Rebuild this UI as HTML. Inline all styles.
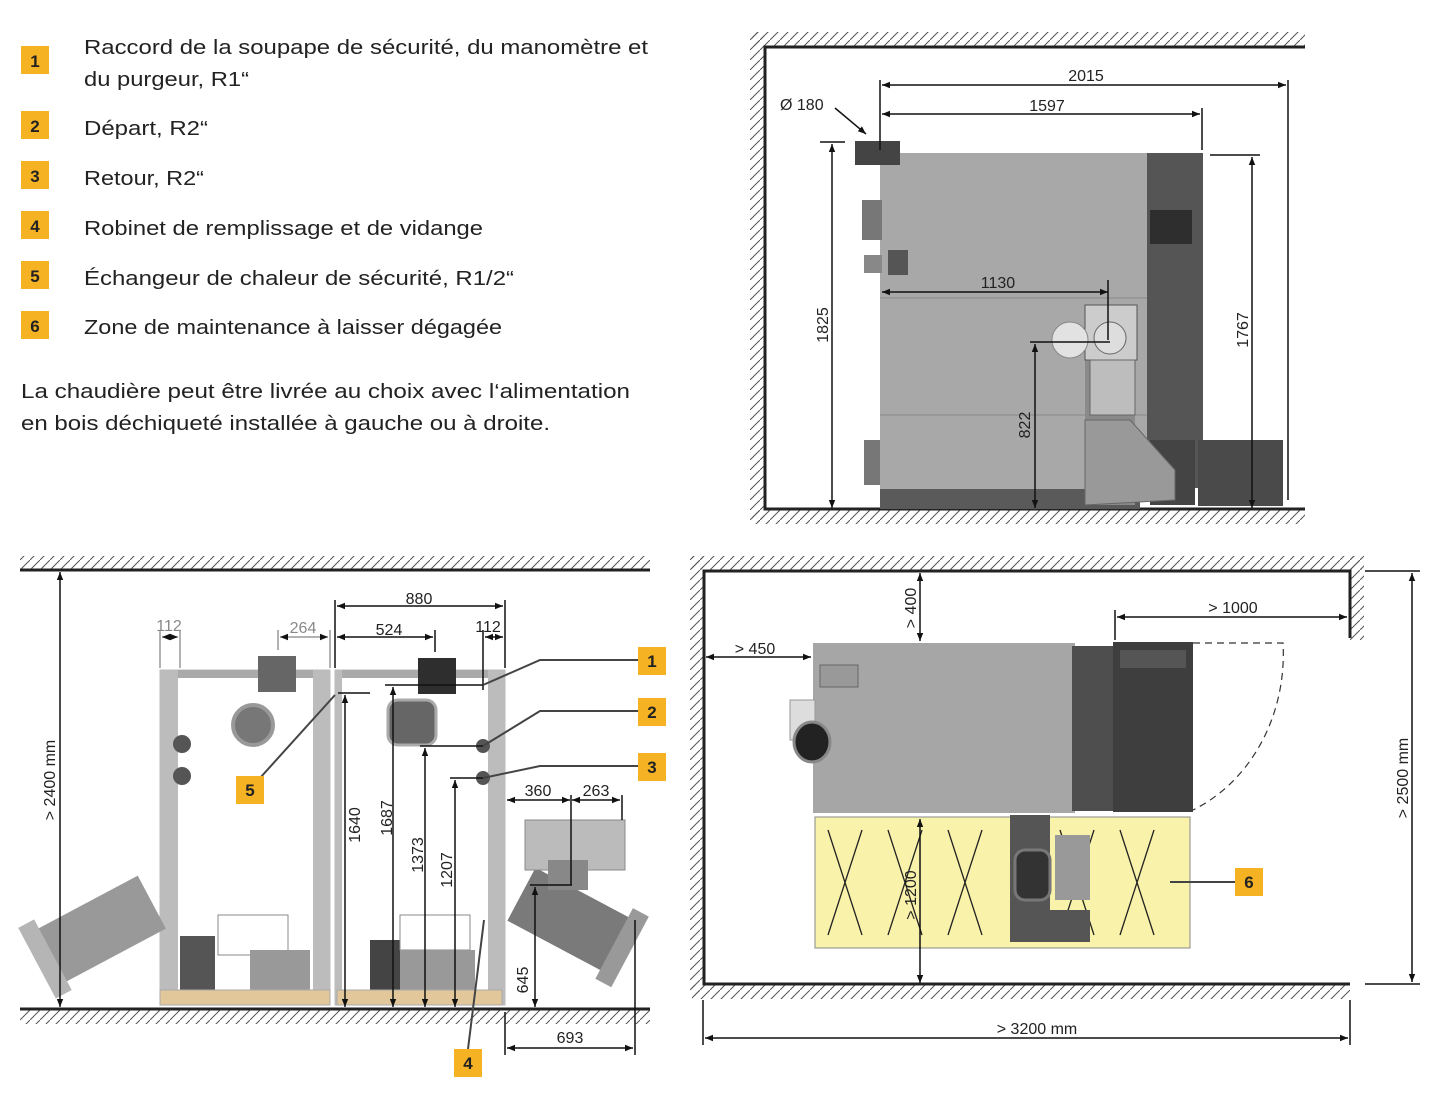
<!DOCTYPE html>
<html><head><meta charset="utf-8"><style>
html,body{margin:0;padding:0;background:#fff}
svg{display:block}
text{font-family:"Liberation Sans",sans-serif}
.lg{font-family:"Liberation Sans",sans-serif;font-size:20px;fill:#222}
.d{font-size:16px;fill:#222}
.dg{font-size:16px;fill:#888}
.n{font-size:17px;font-weight:bold;fill:#222}
</style></head><body>
<svg width="1435" height="1110" viewBox="0 0 1435 1110" xmlns="http://www.w3.org/2000/svg">
<defs>
<pattern id="h" width="10" height="10" patternUnits="userSpaceOnUse"><path d="M0 10 L10 0" stroke="#555" stroke-width="1"/></pattern>
<marker id="a" viewBox="0 0 10 10" refX="10" refY="5" markerWidth="10" markerHeight="8" orient="auto-start-reverse" markerUnits="userSpaceOnUse"><path d="M0 1 L10 5 L0 9 z" fill="#111"/></marker>
</defs>

<!-- Legend -->
<g>
<rect x="21" y="46" width="28" height="28" fill="#f5b324"/><text x="35" y="67" text-anchor="middle" class="n">1</text>
<rect x="21" y="111" width="28" height="28" fill="#f5b324"/><text x="35" y="132" text-anchor="middle" class="n">2</text>
<rect x="21" y="161" width="28" height="28" fill="#f5b324"/><text x="35" y="182" text-anchor="middle" class="n">3</text>
<rect x="21" y="211" width="28" height="28" fill="#f5b324"/><text x="35" y="232" text-anchor="middle" class="n">4</text>
<rect x="21" y="261" width="28" height="28" fill="#f5b324"/><text x="35" y="282" text-anchor="middle" class="n">5</text>
<rect x="21" y="311" width="28" height="28" fill="#f5b324"/><text x="35" y="332" text-anchor="middle" class="n">6</text>
<text x="84" y="54" class="lg" textLength="564" lengthAdjust="spacingAndGlyphs">Raccord de la soupape de sécurité, du manomètre et</text>
<text x="84" y="86" class="lg" textLength="165" lengthAdjust="spacingAndGlyphs">du purgeur, R1“</text>
<text x="84" y="135" class="lg" textLength="124" lengthAdjust="spacingAndGlyphs">Départ, R2“</text>
<text x="84" y="185" class="lg" textLength="120" lengthAdjust="spacingAndGlyphs">Retour, R2“</text>
<text x="84" y="235" class="lg" textLength="399" lengthAdjust="spacingAndGlyphs">Robinet de remplissage et de vidange</text>
<text x="84" y="285" class="lg" textLength="430" lengthAdjust="spacingAndGlyphs">Échangeur de chaleur de sécurité, R1/2“</text>
<text x="84" y="334" class="lg" textLength="418" lengthAdjust="spacingAndGlyphs">Zone de maintenance à laisser dégagée</text>
<text x="21" y="398" class="lg" textLength="609" lengthAdjust="spacingAndGlyphs">La chaudière peut être livrée au choix avec l‘alimentation</text>
<text x="21" y="430" class="lg" textLength="529" lengthAdjust="spacingAndGlyphs">en bois déchiqueté installée à gauche ou à droite.</text>
</g>

<!-- TOP RIGHT -->
<g>
<rect x="752" y="32" width="553" height="14" fill="url(#h)"/>
<rect x="750" y="32" width="14" height="490" fill="url(#h)"/>
<rect x="752" y="510" width="553" height="14" fill="url(#h)"/>
<rect x="764" y="46" width="541" height="464" fill="#fff"/>
<path d="M1305 47 H765 V509 H1305" fill="none" stroke="#222" stroke-width="3"/>
<rect x="880" y="153" width="267" height="336" fill="#a8a8a8"/>
<rect x="880" y="489" width="260" height="20" fill="#5a5a5a"/>
<line x1="880" y1="298" x2="1147" y2="298" stroke="#888"/>
<line x1="880" y1="415" x2="1147" y2="415" stroke="#888"/>
<rect x="1147" y="153" width="56" height="335" fill="#555"/>
<rect x="1150" y="210" width="42" height="34" fill="#2e2e2e"/>
<rect x="1150" y="440" width="45" height="65" fill="#444"/>
<rect x="855" y="141" width="45" height="24" fill="#444"/>
<rect x="862" y="200" width="20" height="40" fill="#777"/>
<rect x="864" y="255" width="18" height="18" fill="#888"/>
<rect x="888" y="250" width="20" height="25" fill="#555"/>
<rect x="864" y="440" width="16" height="45" fill="#777"/>
<rect x="1085" y="340" width="50" height="165" fill="#8a8a8a"/>
<path d="M1085 420 L1130 420 L1175 470 L1175 500 L1085 505 z" fill="#999" stroke="#666"/>
<rect x="1085" y="305" width="52" height="55" fill="#ccc" stroke="#555"/>
<circle cx="1110" cy="338" r="16" fill="#ddd" stroke="#666"/>
<circle cx="1070" cy="340" r="18" fill="#e2e2e2" stroke="#888"/>
<rect x="1090" y="360" width="45" height="55" fill="#bdbdbd" stroke="#666"/>
<rect x="1198" y="440" width="85" height="66" fill="#4a4a4a"/>
<g stroke="#111" stroke-width="1.5" fill="none">
<line x1="880" y1="80" x2="880" y2="150"/>
<line x1="1288" y1="80" x2="1288" y2="500"/>
<line x1="1202" y1="108" x2="1202" y2="150"/>
<line x1="882" y1="85" x2="1286" y2="85" marker-start="url(#a)" marker-end="url(#a)"/>
<line x1="882" y1="114" x2="1200" y2="114" marker-start="url(#a)" marker-end="url(#a)"/>
<line x1="882" y1="292" x2="1108" y2="292" marker-start="url(#a)" marker-end="url(#a)"/>
<line x1="1108" y1="280" x2="1108" y2="340"/>
<line x1="1030" y1="342" x2="1110" y2="342"/>
<line x1="820" y1="142" x2="845" y2="142"/>
<line x1="832" y1="144" x2="832" y2="508" marker-start="url(#a)" marker-end="url(#a)"/>
<line x1="1210" y1="155" x2="1260" y2="155"/>
<line x1="1252" y1="157" x2="1252" y2="508" marker-start="url(#a)" marker-end="url(#a)"/>
<line x1="1035" y1="344" x2="1035" y2="508" marker-start="url(#a)" marker-end="url(#a)"/>
<line x1="835" y1="108" x2="866" y2="134" marker-end="url(#a)"/>
</g>
<text x="1086" y="81" class="d" text-anchor="middle">2015</text>
<text x="1047" y="111" class="d" text-anchor="middle">1597</text>
<text x="998" y="288" class="d" text-anchor="middle">1130</text>
<text x="780" y="110" class="d">Ø 180</text>
<text transform="translate(828 325) rotate(-90)" class="d" text-anchor="middle">1825</text>
<text transform="translate(1248 330) rotate(-90)" class="d" text-anchor="middle">1767</text>
<text transform="translate(1030 425) rotate(-90)" class="d" text-anchor="middle">822</text>
</g>

<!-- BOTTOM LEFT -->
<g>
<rect x="20" y="556" width="630" height="14" fill="url(#h)"/>
<rect x="20" y="1010" width="630" height="14" fill="url(#h)"/>
<line x1="20" y1="570" x2="650" y2="570" stroke="#222" stroke-width="3"/>
<line x1="20" y1="1009" x2="650" y2="1009" stroke="#222" stroke-width="3"/>
<rect x="160" y="670" width="170" height="335" fill="#fff" stroke="#bbb"/>
<rect x="160" y="670" width="170" height="8" fill="#aaa"/>
<rect x="160" y="670" width="18" height="335" fill="#bcbcbc"/>
<rect x="313" y="670" width="17" height="335" fill="#bcbcbc"/>
<rect x="258" y="656" width="38" height="36" fill="#666"/>
<circle cx="253" cy="725" r="20" fill="#777" stroke="#999" stroke-width="4"/>
<rect x="180" y="936" width="35" height="65" fill="#555"/>
<rect x="218" y="915" width="70" height="40" fill="#fff" stroke="#888"/>
<rect x="250" y="950" width="60" height="50" fill="#999"/>
<circle cx="182" cy="744" r="9" fill="#555"/><circle cx="182" cy="776" r="9" fill="#555"/>
<rect x="335" y="670" width="170" height="335" fill="#fff" stroke="#bbb"/>
<rect x="335" y="670" width="170" height="8" fill="#aaa"/>
<rect x="335" y="670" width="7" height="335" fill="#bcbcbc"/>
<rect x="488" y="670" width="17" height="335" fill="#bcbcbc"/>
<rect x="418" y="658" width="38" height="36" fill="#2e2e2e"/>
<rect x="388" y="700" width="48" height="45" rx="10" fill="#666" stroke="#aaa" stroke-width="3"/>
<rect x="370" y="940" width="30" height="55" fill="#444"/>
<rect x="400" y="915" width="70" height="35" fill="#fff" stroke="#888"/>
<rect x="400" y="950" width="75" height="45" fill="#999"/>
<rect x="337" y="990" width="165" height="15" fill="#e2c79a" stroke="#aaa"/>
<rect x="160" y="990" width="170" height="15" fill="#e2c79a" stroke="#aaa"/>
<circle cx="483" cy="746" r="7" fill="#555"/><circle cx="483" cy="778" r="7" fill="#555"/>
<g transform="rotate(-28 90 935)"><rect x="40" y="905" width="120" height="60" fill="#999"/><rect x="30" y="895" width="18" height="80" fill="#b5b5b5"/></g>
<g transform="rotate(28 570 920)"><rect x="515" y="890" width="120" height="60" fill="#7a7a7a"/><rect x="620" y="880" width="18" height="80" fill="#999"/></g>
<rect x="525" y="820" width="100" height="50" fill="#bbb" stroke="#888"/>
<rect x="548" y="860" width="40" height="30" fill="#888"/>
<g stroke="#111" stroke-width="1.5" fill="none">
<line x1="60" y1="572" x2="60" y2="1007" marker-start="url(#a)" marker-end="url(#a)"/>
<line x1="335" y1="600" x2="335" y2="668"/>
<line x1="505" y1="600" x2="505" y2="668"/>
<line x1="337" y1="606" x2="503" y2="606" marker-start="url(#a)" marker-end="url(#a)"/>
<line x1="337" y1="637" x2="433" y2="637" marker-start="url(#a)" marker-end="url(#a)"/>
<line x1="435" y1="630" x2="435" y2="652"/>
<line x1="483" y1="630" x2="483" y2="690"/>
<line x1="485" y1="637" x2="503" y2="637" marker-start="url(#a)" marker-end="url(#a)"/>
<line x1="338" y1="693" x2="370" y2="693"/>
<line x1="345" y1="695" x2="345" y2="1007" marker-start="url(#a)" marker-end="url(#a)"/>
<line x1="385" y1="685" x2="483" y2="685"/>
<line x1="393" y1="687" x2="393" y2="1007" marker-start="url(#a)" marker-end="url(#a)"/>
<line x1="420" y1="746" x2="483" y2="746"/>
<line x1="425" y1="748" x2="425" y2="1007" marker-start="url(#a)" marker-end="url(#a)"/>
<line x1="450" y1="778" x2="483" y2="778"/>
<line x1="455" y1="780" x2="455" y2="1007" marker-start="url(#a)" marker-end="url(#a)"/>
<line x1="507" y1="800" x2="570" y2="800" marker-start="url(#a)" marker-end="url(#a)"/>
<line x1="572" y1="800" x2="620" y2="800" marker-start="url(#a)" marker-end="url(#a)"/>
<line x1="571" y1="795" x2="571" y2="885"/>
<line x1="622" y1="795" x2="622" y2="820"/>
<line x1="530" y1="885" x2="572" y2="885"/>
<line x1="535" y1="887" x2="535" y2="1007" marker-start="url(#a)" marker-end="url(#a)"/>
<line x1="505" y1="1012" x2="505" y2="1055"/>
<line x1="635" y1="920" x2="635" y2="1055"/>
<line x1="507" y1="1048" x2="633" y2="1048" marker-start="url(#a)" marker-end="url(#a)"/>
</g>
<g stroke="#999" stroke-width="1.5" fill="none">
<line x1="160" y1="630" x2="160" y2="668"/><line x1="180" y1="630" x2="180" y2="668"/>
<line x1="162" y1="637" x2="178" y2="637" marker-start="url(#a)" marker-end="url(#a)"/>
<line x1="278" y1="630" x2="278" y2="650"/><line x1="330" y1="630" x2="330" y2="668"/>
<line x1="280" y1="637" x2="328" y2="637" marker-start="url(#a)" marker-end="url(#a)"/>
</g>
<text transform="translate(55 780) rotate(-90)" class="d" text-anchor="middle">&gt; 2400 mm</text>
<text x="419" y="604" class="d" text-anchor="middle">880</text>
<text x="389" y="635" class="d" text-anchor="middle">524</text>
<text x="488" y="632" class="d" text-anchor="middle">112</text>
<text x="169" y="631" class="dg" text-anchor="middle">112</text>
<text x="303" y="633" class="dg" text-anchor="middle">264</text>
<text x="538" y="796" class="d" text-anchor="middle">360</text>
<text x="596" y="796" class="d" text-anchor="middle">263</text>
<text x="570" y="1043" class="d" text-anchor="middle">693</text>
<text transform="translate(360 825) rotate(-90)" class="d" text-anchor="middle">1640</text>
<text transform="translate(392 818) rotate(-90)" class="d" text-anchor="middle">1687</text>
<text transform="translate(423 855) rotate(-90)" class="d" text-anchor="middle">1373</text>
<text transform="translate(452 870) rotate(-90)" class="d" text-anchor="middle">1207</text>
<text transform="translate(528 980) rotate(-90)" class="d" text-anchor="middle">645</text>
<g stroke="#444" stroke-width="2" fill="none">
<polyline points="483,685 540,660 640,660"/>
<polyline points="483,746 540,711 640,711"/>
<polyline points="483,778 540,766 640,766"/>
<line x1="335" y1="695" x2="260" y2="778"/>
<line x1="484" y1="920" x2="468" y2="1049"/>
</g>
<rect x="638" y="647" width="28" height="28" fill="#f5b324"/><text x="652" y="667" text-anchor="middle" class="n">1</text>
<rect x="638" y="698" width="28" height="28" fill="#f5b324"/><text x="652" y="718" text-anchor="middle" class="n">2</text>
<rect x="638" y="753" width="28" height="28" fill="#f5b324"/><text x="652" y="773" text-anchor="middle" class="n">3</text>
<rect x="236" y="776" width="28" height="28" fill="#f5b324"/><text x="250" y="796" text-anchor="middle" class="n">5</text>
<rect x="454" y="1049" width="28" height="28" fill="#f5b324"/><text x="468" y="1069" text-anchor="middle" class="n">4</text>
</g>

<!-- BOTTOM RIGHT -->
<g>
<rect x="692" y="556" width="670" height="14" fill="url(#h)"/>
<rect x="690" y="556" width="13" height="440" fill="url(#h)"/>
<rect x="1350" y="556" width="14" height="84" fill="url(#h)"/>
<rect x="692" y="985" width="658" height="14" fill="url(#h)"/>
<rect x="703" y="570" width="647" height="415" fill="#fff"/>
<path d="M1350 638 V571 H704 V984 H1350" fill="none" stroke="#222" stroke-width="3"/>
<rect x="815" y="817" width="375" height="131" fill="#f9f2ab" stroke="#888"/>
<g stroke="#222" stroke-width="1.3">
<line x1="828" y1="830" x2="862" y2="935"/><line x1="862" y1="830" x2="828" y2="935"/>
<line x1="888" y1="830" x2="922" y2="935"/><line x1="922" y1="830" x2="888" y2="935"/>
<line x1="948" y1="830" x2="982" y2="935"/><line x1="982" y1="830" x2="948" y2="935"/>
<line x1="1060" y1="830" x2="1094" y2="935"/><line x1="1094" y1="830" x2="1060" y2="935"/>
<line x1="1120" y1="830" x2="1154" y2="935"/><line x1="1154" y1="830" x2="1120" y2="935"/>
</g>
<rect x="813" y="643" width="262" height="170" fill="#a6a6a6"/>
<rect x="1072" y="646" width="42" height="165" fill="#4e4e4e"/>
<rect x="1113" y="642" width="80" height="170" fill="#3e3e3e"/>
<rect x="1120" y="650" width="66" height="18" fill="#555"/>
<rect x="820" y="665" width="38" height="22" fill="#999" stroke="#666"/>
<rect x="790" y="700" width="25" height="40" fill="#ddd" stroke="#999"/>
<ellipse cx="812" cy="742" rx="18" ry="20" fill="#222" stroke="#888" stroke-width="3"/>
<rect x="1010" y="815" width="40" height="125" fill="#555"/>
<rect x="1015" y="850" width="35" height="50" rx="10" fill="#333" stroke="#777" stroke-width="3"/>
<rect x="1055" y="835" width="35" height="65" fill="#999"/>
<rect x="1010" y="910" width="80" height="32" fill="#555"/>
<path d="M1193 643 H1283 A150 170 0 0 1 1193 810" fill="none" stroke="#333" stroke-width="1.2" stroke-dasharray="7 5"/>
<g stroke="#111" stroke-width="1.5" fill="none">
<line x1="920" y1="573" x2="920" y2="641" marker-start="url(#a)" marker-end="url(#a)"/>
<line x1="920" y1="819" x2="920" y2="983" marker-start="url(#a)" marker-end="url(#a)"/>
<line x1="706" y1="657" x2="811" y2="657" marker-start="url(#a)" marker-end="url(#a)"/>
<line x1="1115" y1="610" x2="1115" y2="640"/>
<line x1="1117" y1="617" x2="1347" y2="617" marker-start="url(#a)" marker-end="url(#a)"/>
<line x1="1365" y1="571" x2="1420" y2="571"/>
<line x1="1365" y1="984" x2="1420" y2="984"/>
<line x1="1412" y1="573" x2="1412" y2="982" marker-start="url(#a)" marker-end="url(#a)"/>
<line x1="703" y1="1000" x2="703" y2="1045"/>
<line x1="1350" y1="1000" x2="1350" y2="1045"/>
<line x1="705" y1="1038" x2="1348" y2="1038" marker-start="url(#a)" marker-end="url(#a)"/>
</g>
<line x1="1170" y1="882" x2="1235" y2="882" stroke="#444" stroke-width="2"/>
<rect x="1235" y="868" width="28" height="28" fill="#f5b324"/><text x="1249" y="888" text-anchor="middle" class="n">6</text>
<text transform="translate(916 608) rotate(-90)" class="d" text-anchor="middle">&gt; 400</text>
<text transform="translate(916 895) rotate(-90)" class="d" text-anchor="middle">&gt; 1200</text>
<text x="755" y="654" class="d" text-anchor="middle">&gt; 450</text>
<text x="1233" y="613" class="d" text-anchor="middle">&gt; 1000</text>
<text x="1037" y="1034" class="d" text-anchor="middle">&gt; 3200 mm</text>
<text transform="translate(1408 778) rotate(-90)" class="d" text-anchor="middle">&gt; 2500 mm</text>
</g>
</svg>
</body></html>
